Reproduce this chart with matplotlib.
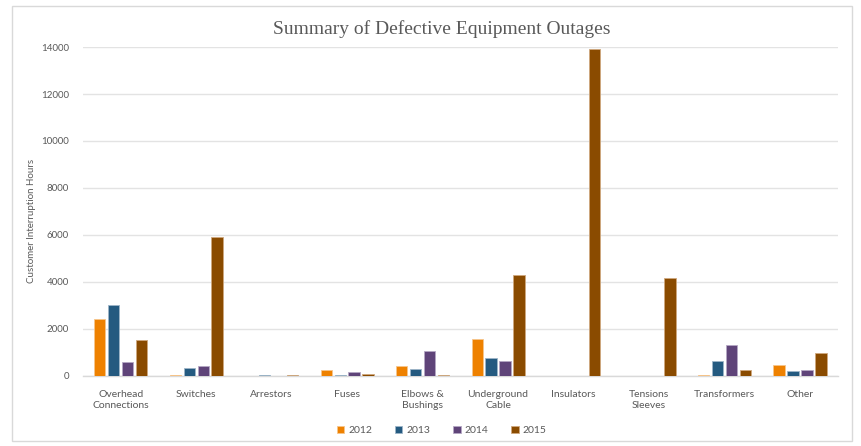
import numpy as np
import matplotlib.pyplot as plt
from matplotlib.patches import Rectangle

# categories and yearly values (customer interruption hours)
categories = ['Overhead\nConnections', 'Switches', 'Arrestors', 'Fuses',
              'Elbows &\nBushings', 'Underground\nCable', 'Insulators',
              'Tensions\nSleeves', 'Transformers', 'Other']
years = ['2012', '2013', '2014', '2015']
v2012 = [2425, 60, 0, 240, 425, 1560, 0, 0, 60, 455]
v2013 = [3020, 330, 50, 60, 285, 780, 0, 0, 655, 213]
v2014 = [610, 425, 0, 185, 1065, 640, 0, 0, 1320, 272]
v2015 = [1530, 5930, 50, 100, 40, 4300, 13900, 4170, 240, 965]
colors = ['#EE8100', '#245A80', '#5F4479', '#8A4B00']
edges = ['#F7C58C', '#9DB5C8', '#B5A7C4', '#CFA87E']

fig = plt.figure(figsize=(8.61, 4.46), dpi=100)
ax = fig.add_axes([0.0964, 0.157, 0.8766, 0.7376])

# light frame around the chart
fig.patches.append(Rectangle((0.014, 0.012), 0.976, 0.975, transform=fig.transFigure,
                             fill=False, edgecolor='#D9D9D9', linewidth=1.0))

x = np.arange(len(categories))
step = 0.185
width = 0.15
series = [v2012, v2013, v2014, v2015]
for i, vals in enumerate(series):
    ax.bar(x + (i - 1.5) * step, vals, width, color=colors[i], edgecolor=edges[i],
           linewidth=0.6, label=years[i], zorder=3)

ax.set_xlim(-0.5, len(categories) - 0.5)
ax.set_ylim(0, 14000)
ax.set_yticks(range(0, 14001, 2000))
ax.yaxis.grid(True, color='#E3E3E3', linewidth=1.0, zorder=0)
ax.set_xticks(x)
ax.set_xticklabels(categories, fontsize=7.5, color='#595959', family='Lato', linespacing=1.3)
for lab in ax.get_yticklabels():
    lab.set_fontsize(7)
    lab.set_color('#595959')
    lab.set_family('Lato')
ax.tick_params(axis='both', length=0)
ax.tick_params(axis='x', pad=10)
ax.tick_params(axis='y', pad=10)
for s in ['top', 'right', 'left']:
    ax.spines[s].set_visible(False)
ax.spines['bottom'].set_color('#D9D9D9')
ax.spines['bottom'].set_linewidth(1.0)

ax.set_ylabel('Customer Interruption Hours', fontsize=7, color='#595959', family='Lato')
ax.yaxis.set_label_coords(-0.062, 0.47)
fig.text(0.513, 0.935, 'Summary of Defective Equipment Outages', ha='center', va='center',
         fontsize=14, color='#595959', family='Liberation Serif')

fig.legend(loc='center', bbox_to_anchor=(0.513, 0.035), ncol=4, frameon=False,
           handlelength=0.7, handleheight=0.7, handletextpad=0.4,
           columnspacing=2.2, prop={'family': 'Lato', 'size': 7.5})
for t in fig.legends[0].get_texts():
    t.set_color('#595959')

fig.savefig('out.png', dpi=100)
